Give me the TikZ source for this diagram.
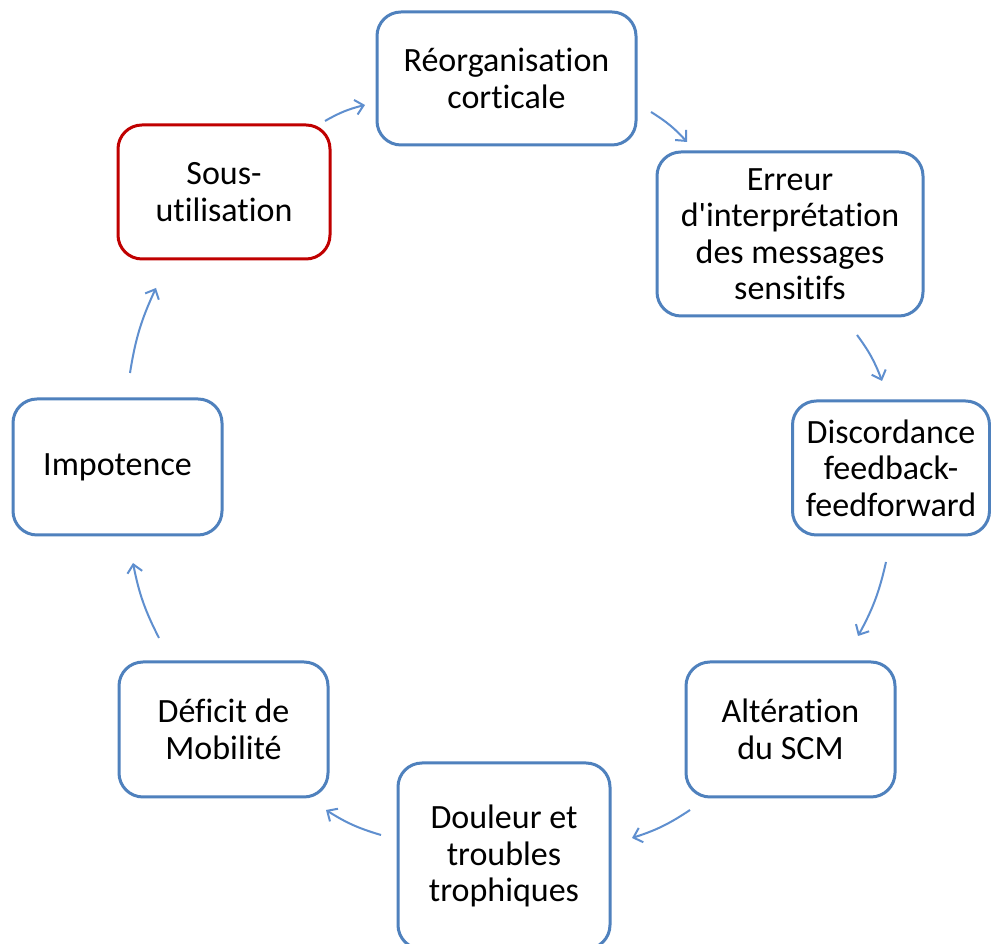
\documentclass[tikz,border=0pt]{standalone}
\usepackage{fontspec}
\newfontfamily\calfont{Carlito}[Ligatures=NoCommon]
\usetikzlibrary{arrows.meta}
\definecolor{boxblue}{HTML}{4F81BD}
\definecolor{arrblue}{HTML}{5F8FCF}
\definecolor{boxred}{HTML}{C00000}
\begin{document}
\begin{tikzpicture}[x=1pt,y=1pt,
  cyclebox/.style={draw=boxblue, line width=3pt, rounded corners=24pt, fill=white,
    align=center, inner sep=0pt, text=black,
    font=\calfont\fontsize{34}{36.5}\selectfont},
  cyclearr/.style={draw=arrblue, line width=2pt, bend left=8,
    -{Straight Barb[length=8pt,width=15pt,line width=2pt]}}]
\useasboundingbox (0,0) rectangle (991,944);
\fill[white] (0,0) rectangle (991,944);
\node[cyclebox, minimum width=259pt, minimum height=133pt] (reorg) at (506.5,865.5) {Réorganisation\\corticale};
\node[cyclebox, minimum width=266pt, minimum height=164pt] (erreur) at (790,710) {Erreur\\d'interprétation\\des messages\\sensitifs};
\node[cyclebox, minimum width=197pt, minimum height=134pt] (disc) at (891,476) {Discordance\\feedback-\\feedforward};
\node[cyclebox, minimum width=209pt, minimum height=135pt] (alter) at (790.5,214.5) {Altération\\du SCM};
\node[cyclebox, minimum width=212pt, minimum height=186pt] (douleur) at (504,88) {Douleur et\\troubles\\trophiques};
\node[cyclebox, minimum width=209pt, minimum height=135pt] (deficit) at (223.5,214.5) {Déficit de\\Mobilité};
\node[cyclebox, minimum width=209pt, minimum height=136pt] (impot) at (117.5,477) {Impotence};
\node[cyclebox, draw=boxred, minimum width=212pt, minimum height=134pt] (sous) at (224,752) {Sous-\\utilisation};
\coordinate (a1s) at (325,823); \coordinate (a1e) at (365,839);
\coordinate (a2s) at (651,832); \coordinate (a2e) at (687,802);
\coordinate (a3s) at (857,609); \coordinate (a3e) at (882,563);
\coordinate (a4s) at (886,382); \coordinate (a4e) at (858,308);
\coordinate (a5s) at (690,134); \coordinate (a5e) at (632,106);
\coordinate (a6s) at (381,109); \coordinate (a6e) at (326,134);
\coordinate (a7s) at (159,306); \coordinate (a7e) at (133,381);
\coordinate (a8s) at (130,571); \coordinate (a8e) at (156,656);
\draw[cyclearr] (a1s) to (a1e);
\draw[cyclearr] (a2s) to (a2e);
\draw[cyclearr] (a3s) to (a3e);
\draw[cyclearr] (a4s) to (a4e);
\draw[cyclearr] (a5s) to (a5e);
\draw[cyclearr] (a6s) to (a6e);
\draw[cyclearr] (a7s) to (a7e);
\draw[cyclearr] (a8s) to (a8e);
\end{tikzpicture}
\end{document}
